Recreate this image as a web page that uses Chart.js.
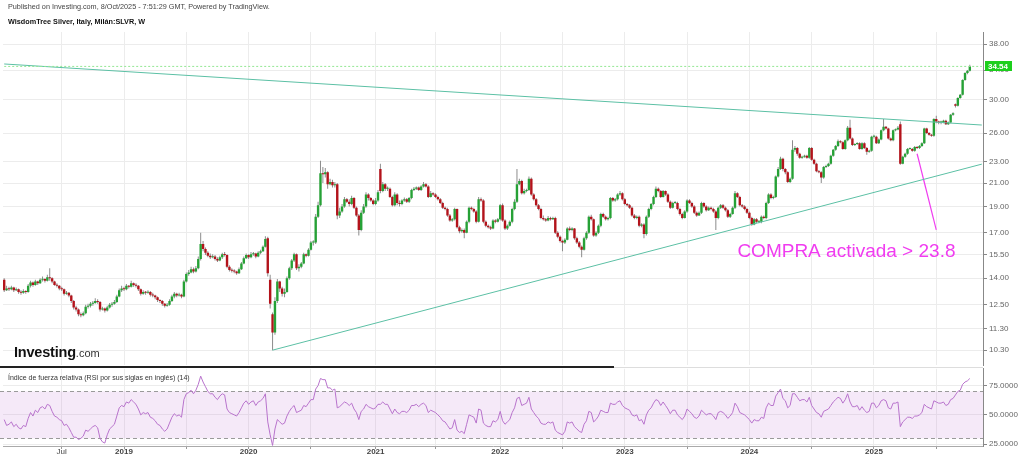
<!DOCTYPE html>
<html lang="es">
<head>
<meta charset="utf-8">
<title>WisdomTree Silver - SLVR semanal</title>
<script src="https://cdn.jsdelivr.net/npm/chart.js@4.4.1/dist/chart.umd.min.js"></script>
<style>
  html, body { margin: 0; padding: 0; background: #fff; }
  body { position: relative; width: 1024px; height: 456px; overflow: hidden;
         font-family: "Liberation Sans", Arial, sans-serif; }
  .panel { position: absolute; left: 0; width: 1024px; }
  #panel-precio { top: 0; height: 372px; }
  #panel-rsi { top: 362px; height: 94px; }
  .texto { position: absolute; white-space: nowrap; }
  #publicado { left: 8px; top: 3px; font-size: 7.25px; line-height: 8px; color: #444; }
  #titulo { left: 8px; top: 18px; font-size: 7.25px; line-height: 8px; font-weight: bold; color: #111; }
  #titulo-rsi { left: 8px; top: 374px; font-size: 7px; line-height: 8px; color: #333; }
  #logo { left: 14px; top: 344px; line-height: 15px; color: #111; }
  #logo b { font-size: 14.5px; letter-spacing: -0.2px; }
  #logo span { font-size: 11px; color: #333; }
  #barra { position: absolute; left: 0; top: 366px; width: 614px; height: 2px; background: #222; }
  #barra-gris { position: absolute; left: 614px; top: 367px; width: 369px; height: 1px; background: #ddd; }
</style>
</head>
<body>
<div class="panel" id="panel-precio"><canvas id="grafica-precio"></canvas></div>
<div class="panel" id="panel-rsi"><canvas id="grafica-rsi"></canvas></div>
<div id="barra"></div><div id="barra-gris"></div>
<div class="texto" id="publicado">Published on Investing.com, 8/Oct/2025 - 7:51:29 GMT, Powered by TradingView.</div>
<div class="texto" id="titulo">WisdomTree Silver, Italy, Milán:SLVR, W</div>
<div class="texto" id="titulo-rsi">Índice de fuerza relativa (RSI por sus siglas en inglés) (14)</div>
<div class="texto" id="logo"><b>Investing</b><span>.com</span></div>
<script>
// ── DATOS SEMANALES (desde la semana del 15/01/2018) ──────────
const aperturas = [
  13.90,13.30,13.40,13.35,13.45,13.30,13.35,13.20,13.15,13.25,
  13.20,13.55,13.75,13.60,13.80,13.70,13.90,13.95,13.85,14.05,
  14.00,13.80,13.60,13.55,13.40,13.35,13.10,13.15,13.00,12.70,
  12.35,12.25,12.00,11.95,12.05,12.40,12.45,12.55,12.60,12.70,
  12.65,12.25,12.30,12.20,12.35,12.50,12.55,12.65,12.95,13.30,
  13.40,13.35,13.55,13.50,13.70,13.60,13.55,13.35,13.10,13.20,
  13.15,13.20,13.05,13.00,12.90,12.75,12.70,12.55,12.45,12.50,
  12.70,12.95,13.10,13.00,13.05,12.95,13.80,14.25,14.35,14.55,
  14.40,14.60,15.20,16.20,15.85,15.60,15.40,15.30,15.35,15.20,
  15.10,15.30,15.50,15.45,14.70,14.50,14.45,14.40,14.30,14.55,
  14.90,15.25,15.45,15.30,15.50,15.55,15.35,15.60,15.70,16.00,
  16.60,13.90,12.00,11.10,12.70,13.80,13.40,13.10,13.20,14.00,
  14.60,15.10,15.50,14.60,14.70,14.90,15.50,15.40,15.80,16.30,
  16.30,18.20,19.10,21.90,21.80,22.00,20.90,21.10,20.80,20.90,
  18.30,18.60,19.00,19.60,19.40,19.20,19.70,18.90,18.30,17.20,
  18.50,19.00,20.00,19.70,19.50,19.20,19.50,22.30,20.30,20.90,
  20.50,20.50,19.80,19.10,20.00,19.30,19.20,19.50,19.60,19.40,
  19.70,20.40,20.50,20.60,20.40,20.70,20.90,20.70,19.80,20.10,
  20.00,19.80,19.60,19.30,18.90,18.80,18.30,17.90,18.00,18.80,
  17.40,17.10,17.20,17.00,17.80,18.90,18.80,18.60,17.80,19.60,
  19.50,17.80,17.50,17.40,17.30,17.90,17.80,18.00,19.10,17.90,
  17.30,17.50,17.80,18.80,19.40,20.90,21.20,20.10,20.30,20.40,
  21.40,20.00,19.60,19.10,18.80,18.10,18.00,17.90,18.10,18.00,
  18.10,17.00,16.70,16.40,16.30,16.50,17.30,17.20,17.30,16.60,
  16.30,16.00,15.80,16.60,17.00,18.20,18.00,16.80,17.00,17.50,
  18.40,18.20,18.00,18.10,19.70,19.50,19.60,20.00,20.10,19.60,
  19.20,19.10,18.90,18.30,18.10,18.20,17.50,17.60,16.90,18.20,
  18.80,19.20,19.80,20.50,20.30,19.80,20.30,20.00,19.40,18.90,
  19.30,19.30,18.80,18.40,18.10,18.60,19.50,19.30,19.00,18.50,
  18.30,18.50,19.30,19.00,18.70,18.90,18.80,18.60,18.10,18.90,
  19.10,18.90,18.70,18.20,18.40,18.90,20.10,19.80,19.10,19.00,
  18.80,18.50,18.10,17.60,18.00,17.80,17.80,18.20,18.10,19.30,
  20.00,19.70,19.80,21.60,22.30,23.30,22.30,22.00,21.10,21.40,
  24.20,24.40,23.80,23.40,23.50,23.60,23.40,24.40,23.20,22.80,
  22.10,22.00,21.50,22.50,22.60,22.80,23.60,24.20,24.60,25.10,
  25.00,24.30,25.20,26.60,25.40,24.70,24.80,24.90,24.30,24.90,
  24.40,24.00,24.10,25.60,25.60,24.90,25.30,26.30,26.70,26.50,
  25.40,25.20,26.30,26.40,27.00,22.80,23.50,23.80,24.30,24.30,
  24.10,24.50,24.40,24.60,24.90,26.50,26.00,25.80,25.70,27.60,
  27.30,27.20,27.20,27.40,27.00,27.20,28.10,29.40,29.20,30.20,
  30.60,32.60,33.60,33.90
];
const maximos = [
  14.00,13.55,13.50,13.55,13.50,13.45,13.40,13.30,13.35,13.30,
  13.65,13.85,13.80,13.90,13.85,14.00,14.10,14.00,14.20,14.60,
  14.05,13.85,13.70,13.60,13.50,13.40,13.25,13.20,13.05,12.75,
  12.45,12.30,12.10,12.15,12.50,12.55,12.65,12.70,12.85,12.80,
  12.70,12.40,12.35,12.45,12.60,12.65,12.75,13.05,13.40,13.55,
  13.50,13.65,13.60,13.85,13.75,13.70,13.60,13.40,13.30,13.25,
  13.30,13.25,13.15,13.05,12.95,12.80,12.75,12.60,12.60,12.80,
  13.05,13.20,13.15,13.15,13.10,13.90,14.35,14.50,14.70,14.65,
  14.75,15.35,17.00,16.40,15.95,15.70,15.55,15.50,15.45,15.30,
  15.40,15.60,15.65,15.50,14.80,14.60,14.55,14.45,14.65,15.00,
  15.35,15.55,15.50,15.65,15.65,15.60,15.70,15.80,16.10,16.75,
  16.70,14.20,12.10,12.90,13.95,13.85,13.50,13.40,14.10,14.70,
  15.20,15.60,15.55,14.85,15.00,15.60,15.55,15.90,16.40,16.45,
  18.40,19.40,23.10,22.50,22.40,22.10,21.40,21.30,21.10,21.00,
  18.90,19.20,19.80,19.70,19.60,19.90,19.80,19.00,18.40,18.70,
  19.20,20.20,20.10,19.80,19.60,19.70,20.40,22.80,21.10,21.00,
  20.70,20.60,19.90,20.20,20.10,19.50,19.60,19.75,19.70,19.80,
  20.50,20.65,20.70,20.70,20.80,21.10,21.00,20.80,20.30,20.20,
  20.10,19.90,19.70,19.40,19.00,18.90,18.40,18.10,18.90,18.85,
  17.50,17.30,17.30,17.90,19.00,19.00,18.90,18.70,19.80,19.75,
  19.60,17.90,17.60,17.50,18.00,18.00,18.10,19.20,19.25,18.00,
  17.60,17.90,18.90,19.60,22.30,21.40,21.30,20.50,20.50,21.60,
  21.50,20.10,19.70,19.20,18.90,18.30,18.10,18.25,18.20,18.20,
  18.20,17.10,16.80,16.50,16.60,17.40,17.45,17.40,17.35,16.70,
  16.40,16.10,16.70,17.10,18.30,18.35,18.05,17.10,17.60,18.50,
  18.50,18.30,18.20,19.80,19.80,19.70,20.10,20.30,20.20,19.70,
  19.30,19.20,19.00,18.40,18.30,18.30,17.70,17.70,18.30,18.90,
  19.30,19.90,20.70,20.60,20.40,20.40,20.35,20.10,19.50,19.40,
  19.45,19.40,18.90,18.50,18.70,19.60,19.60,19.40,19.10,18.60,
  18.60,19.40,19.35,19.10,19.00,19.00,18.90,18.70,19.00,19.20,
  19.20,19.00,18.80,18.50,19.00,20.30,20.20,19.90,19.20,19.10,
  18.90,18.60,18.20,18.10,18.10,17.90,18.30,18.30,19.40,20.10,
  20.10,19.90,21.70,22.50,23.50,23.40,22.40,22.10,21.50,25.20,
  24.60,24.50,23.90,23.60,23.70,23.70,24.50,24.50,23.30,22.90,
  22.20,22.10,22.60,22.70,22.90,23.70,24.30,24.70,25.30,25.20,
  25.10,25.30,26.80,27.50,25.50,24.90,25.00,25.00,25.00,25.00,
  24.50,24.20,25.70,25.80,25.70,25.40,26.40,27.60,26.80,26.60,
  25.50,26.40,26.50,26.80,27.30,23.60,23.90,24.40,24.45,24.40,
  24.60,24.60,24.70,25.00,26.60,26.60,26.10,25.90,27.70,28.00,
  27.40,27.40,27.50,27.50,27.30,28.20,28.40,29.50,30.30,30.70,
  32.70,33.70,34.00,34.80
];
const minimos = [
  13.20,13.25,13.25,13.30,13.20,13.25,13.10,13.05,13.10,13.10,
  13.15,13.45,13.50,13.55,13.60,13.65,13.80,13.75,13.80,13.85,
  13.70,13.55,13.45,13.30,13.25,13.00,13.05,12.90,12.60,12.25,
  12.15,11.90,11.85,11.90,12.00,12.30,12.35,12.45,12.55,12.55,
  12.15,12.20,12.10,12.15,12.30,12.40,12.50,12.60,12.90,13.20,
  13.25,13.30,13.40,13.45,13.50,13.45,13.25,13.00,13.05,13.05,
  13.10,12.95,12.90,12.80,12.65,12.60,12.45,12.35,12.40,12.45,
  12.65,12.85,12.90,12.95,12.85,12.90,13.75,14.15,14.30,14.30,
  14.35,14.55,15.10,15.70,15.45,15.30,15.20,15.25,15.10,15.00,
  15.05,15.20,15.35,14.60,14.40,14.35,14.30,14.20,14.25,14.50,
  14.85,15.20,15.20,15.25,15.40,15.25,15.30,15.50,15.65,15.95,
  14.10,12.30,10.30,11.00,12.60,13.20,12.95,12.90,13.15,13.90,
  14.50,15.00,14.50,14.40,14.60,14.85,15.30,15.35,15.75,16.10,
  16.20,18.10,19.00,21.00,21.50,20.50,20.80,20.60,20.60,18.00,
  18.10,18.50,18.90,19.30,19.00,19.10,18.80,18.20,16.80,17.10,
  18.40,18.90,19.50,19.40,19.10,19.10,19.40,20.10,20.20,20.30,
  20.30,19.70,19.00,19.00,19.10,19.00,19.10,19.40,19.30,19.30,
  19.60,20.30,20.40,20.30,20.30,20.60,20.60,19.70,19.75,19.90,
  19.70,19.50,19.20,18.80,18.70,18.20,17.80,17.80,17.90,17.30,
  16.95,17.00,16.60,16.95,17.70,18.70,18.50,17.70,17.75,19.40,
  17.70,17.40,17.30,17.20,17.25,17.70,17.75,17.90,17.80,17.20,
  17.20,17.45,17.70,18.70,19.30,20.80,20.00,20.00,20.20,20.30,
  19.90,19.50,19.00,18.70,18.00,17.90,17.80,17.85,17.90,17.95,
  16.90,16.60,16.30,15.70,16.20,16.45,17.10,17.10,16.50,16.20,
  15.90,15.30,15.75,16.50,16.90,17.90,16.70,16.70,16.90,17.40,
  18.10,17.90,17.90,18.00,19.40,19.40,19.50,19.90,19.50,19.10,
  19.00,18.80,18.20,18.00,18.00,17.40,17.40,16.60,16.80,18.10,
  18.70,19.10,19.70,20.20,19.70,19.75,19.90,19.30,18.80,18.85,
  19.20,18.70,18.30,18.00,18.05,18.50,19.20,18.90,18.40,18.20,
  18.25,18.40,18.90,18.60,18.65,18.70,18.50,17.20,18.00,18.80,
  18.80,18.60,18.10,18.10,18.35,18.80,19.70,19.00,18.90,18.70,
  18.40,18.00,17.50,17.55,17.70,17.70,17.70,18.00,18.00,19.20,
  19.60,19.60,19.70,21.50,22.20,22.10,21.80,21.00,21.00,21.30,
  24.00,23.60,23.30,23.30,23.40,23.30,23.30,23.10,22.70,22.00,
  21.90,21.00,21.40,22.40,22.50,22.70,23.50,24.10,24.50,24.90,
  24.20,24.20,25.10,25.30,24.60,24.60,24.70,24.20,24.20,24.30,
  23.70,23.90,24.00,25.40,24.80,24.80,25.20,26.20,26.40,25.30,
  25.10,25.10,26.20,26.30,22.70,22.75,23.40,23.70,24.20,24.00,
  24.00,24.30,24.30,24.50,24.80,25.90,25.70,25.60,25.60,27.10,
  27.00,27.00,27.10,26.90,26.90,27.10,28.00,29.00,29.10,30.10,
  30.50,32.50,33.40,33.80
];
const cierres = [
  13.30,13.40,13.35,13.45,13.30,13.35,13.20,13.15,13.25,13.20,
  13.55,13.75,13.60,13.80,13.70,13.90,13.95,13.85,14.05,14.00,
  13.80,13.60,13.55,13.40,13.35,13.10,13.15,13.00,12.70,12.35,
  12.25,12.00,11.95,12.05,12.40,12.45,12.55,12.60,12.70,12.65,
  12.25,12.30,12.20,12.35,12.50,12.55,12.65,12.95,13.30,13.40,
  13.35,13.55,13.50,13.70,13.60,13.55,13.35,13.10,13.20,13.15,
  13.20,13.05,13.00,12.90,12.75,12.70,12.55,12.45,12.50,12.70,
  12.95,13.10,13.00,13.05,12.95,13.80,14.25,14.35,14.55,14.40,
  14.60,15.20,16.20,15.85,15.60,15.40,15.30,15.35,15.20,15.10,
  15.30,15.50,15.45,14.70,14.50,14.45,14.40,14.30,14.55,14.90,
  15.25,15.45,15.30,15.50,15.55,15.35,15.60,15.70,16.00,16.55,
  14.30,12.55,11.10,12.70,13.80,13.40,13.10,13.20,14.00,14.60,
  15.10,15.50,14.60,14.70,14.90,15.50,15.40,15.80,16.30,16.30,
  18.20,19.10,21.90,21.80,22.00,20.90,21.10,20.80,20.90,18.30,
  18.60,19.00,19.60,19.40,19.20,19.70,18.90,18.30,17.20,18.50,
  19.00,20.00,19.70,19.50,19.20,19.50,20.20,20.30,20.90,20.50,
  20.50,19.80,19.10,20.00,19.30,19.20,19.50,19.60,19.40,19.70,
  20.40,20.50,20.60,20.40,20.70,20.90,20.70,19.80,20.10,20.00,
  19.80,19.60,19.30,18.90,18.80,18.30,17.90,18.00,18.80,17.40,
  17.10,17.20,17.00,17.80,18.90,18.80,18.60,17.80,19.60,19.50,
  17.80,17.50,17.40,17.30,17.90,17.80,18.00,19.10,17.90,17.30,
  17.50,17.80,18.80,19.40,20.90,21.20,20.10,20.30,20.40,21.40,
  20.00,19.60,19.10,18.80,18.10,18.00,17.90,18.10,18.00,18.10,
  17.00,16.70,16.40,16.30,16.50,17.30,17.20,17.30,16.60,16.30,
  16.00,15.80,16.60,17.00,18.20,18.00,16.80,17.00,17.50,18.40,
  18.20,18.00,18.10,19.70,19.50,19.60,20.00,20.10,19.60,19.20,
  19.10,18.90,18.30,18.10,18.20,17.50,17.60,16.90,18.20,18.80,
  19.20,19.80,20.50,20.30,19.80,20.30,20.00,19.40,18.90,19.30,
  19.30,18.80,18.40,18.10,18.60,19.50,19.30,19.00,18.50,18.30,
  18.50,19.30,19.00,18.70,18.90,18.80,18.60,18.10,18.90,19.10,
  18.90,18.70,18.20,18.40,18.90,20.10,19.80,19.10,19.00,18.80,
  18.50,18.10,17.60,18.00,17.80,17.80,18.20,18.10,19.30,20.00,
  19.70,19.80,21.60,22.30,23.30,22.30,22.00,21.10,21.40,24.20,
  24.40,23.80,23.40,23.50,23.60,23.40,24.40,23.20,22.80,22.10,
  22.00,21.50,22.50,22.60,22.80,23.60,24.20,24.60,25.10,25.00,
  24.30,25.20,26.60,25.40,24.70,24.80,24.90,24.30,24.90,24.40,
  24.00,24.10,25.60,25.60,24.90,25.30,26.30,26.70,26.50,25.40,
  25.20,26.30,26.40,26.60,22.80,23.50,23.80,24.30,24.30,24.10,
  24.50,24.40,24.60,24.90,26.50,26.00,25.80,25.70,27.60,27.30,
  27.20,27.20,27.40,27.00,27.20,28.10,28.30,29.20,30.20,30.60,
  32.60,33.60,33.90,34.54
];
const rsi14 = [
  46,41,42,44,40,42,39,38,41,40,
  47,52,49,54,52,56,57,55,59,58,
  53,49,48,46,45,41,42,39,35,31,
  31,29,30,32,37,36,38,40,41,39,
  30,27,26,33,38,40,42,49,56,58,
  57,61,60,63,61,59,55,50,52,51,
  52,48,47,45,42,41,38,36,38,43,
  48,51,49,50,48,63,68,69,71,68,
  71,76,83,78,74,70,68,68,65,63,
  66,68,67,55,52,51,50,49,52,56,
  60,62,59,61,62,58,61,62,64,68,
  44,33,24,38,46,44,42,43,49,53,
  56,58,52,53,54,58,57,60,63,63,
  72,75,81,80,80,73,73,71,72,56,
  57,59,61,60,58,60,55,52,46,53,
  55,59,57,56,55,56,59,59,61,59,
  59,55,51,55,52,51,53,53,52,54,
  58,58,59,57,59,60,58,52,54,53,
  52,50,48,45,44,41,38,39,46,37,
  35,36,34,42,50,49,48,43,55,54,
  43,41,40,40,45,44,46,53,45,42,
  44,46,52,56,64,65,58,59,60,65,
  55,52,49,47,43,42,42,44,43,44,
  37,35,34,33,36,44,43,44,40,38,
  36,35,42,45,53,52,44,46,49,54,
  53,52,52,60,59,59,61,62,58,56,
  55,54,50,49,50,45,46,42,50,54,
  56,60,63,62,58,61,58,55,51,54,
  54,50,48,46,49,55,53,51,48,47,
  49,54,52,50,51,51,49,46,52,53,
  52,50,47,49,52,60,57,52,51,50,
  48,46,43,46,45,45,48,47,56,60,
  58,58,66,69,72,64,62,56,58,68,
  68,65,62,63,63,61,65,58,55,52,
  51,48,53,54,55,58,61,63,65,64,
  60,63,68,61,57,57,58,54,57,54,
  52,53,60,60,56,58,62,63,62,56,
  55,60,60,61,40,44,46,48,48,47,
  49,49,50,52,59,57,56,55,62,61,
  60,60,61,58,59,63,64,67,70,71,
  76,78,79,81
];

// ── EJES Y MARCAS ─────────────────────────────────────────
const marcasPrecio = [10.3, 11.3, 12.5, 14, 15.5, 17, 19, 21, 23, 26, 30, 34, 38];
const marcasRsi = [25, 50, 75];
const nivelesRsi = [30, 70];
const fechasMarcas = ['2018-07-01','2019-01-01','2019-07-01','2020-01-01','2020-07-01','2021-01-01','2021-07-01',
  '2022-01-01','2022-07-01','2023-01-01','2023-07-01','2024-01-01','2024-07-01','2025-01-01','2025-07-01'];
const textosMarcas = ['Jul','2019','','2020','','2021','','2022','','2023','','2024','','2025',''];

// ── DIRECTRICES Y ANOTACIÓN ───────────────────────────────
const semanasBajista = [0, 408];
const lineaBajista = [34.9, 26.9];
const semanasAlcista = [112, 408];
const lineaAlcista = [10.3, 22.77];
const semanasPrecioActual = [0, 408];
const ultimoPrecio = 34.54;
const semanasFlecha = [381, 389];
const flechaCompra = [23.8, 17.2];
const textoCompra = 'COMPRA activada > 23.8';
const semanaTextoCompra = 306;
const precioTextoCompra = 15.3;

// ── SEMANAS (categorías) ──────────────────────────────────
const SEMANAS = 409;
const DIA = 86400000;
const inicio = Date.UTC(2018, 0, 15);
const semanas = [];
for (let i = 0; i < SEMANAS; i++) {
    semanas.push(new Date(inicio + i * 7 * DIA).toISOString().slice(0, 10));
}
const marcaPorIndice = {};
fechasMarcas.forEach((f, k) => {
    marcaPorIndice[Math.round((Date.parse(f) - inicio) / (7 * DIA))] = textosMarcas[k];
});

const FUENTE = '"Liberation Sans", Arial, sans-serif';
const VERDE = '#26a136';
const ROJO = '#b3131b';
const TEAL = '#5cc0a5';
const MAGENTA = '#f03cf0';
const REJILLA = '#ececec';

Chart.defaults.font.family = FUENTE;
Chart.defaults.animation = false;
Chart.defaults.plugins.legend.display = false;
Chart.defaults.plugins.tooltip.enabled = false;

const rejillaX = ctx => (ctx.index in marcaPorIndice) ? REJILLA : 'rgba(0,0,0,0)';
const marcaX = ctx => (ctx.index in marcaPorIndice) ? '#999' : 'rgba(0,0,0,0)';
const puntos = (idx, vals) => idx.map((s, k) => ({ x: semanas[s], y: vals[k] }));
const lineaSimple = (data, color, extra) => Object.assign({
    type: 'line', data, borderColor: color, borderWidth: 1, pointRadius: 0, order: 0
}, extra || {});

// ── PLUGINS ───────────────────────────────────────────────
const etiquetaPrecio = {
    id: 'etiquetaPrecio',
    afterDraw(chart) {
        const { ctx, chartArea, scales: { y } } = chart;
        const py = Math.round(y.getPixelForValue(ultimoPrecio));
        ctx.save();
        ctx.fillStyle = '#1ccf1c';
        ctx.fillRect(chartArea.right + 2, py - 5, 27, 10);
        ctx.fillStyle = '#fff';
        ctx.font = 'bold 8px ' + FUENTE;
        ctx.textBaseline = 'middle';
        ctx.fillText(ultimoPrecio.toFixed(2), chartArea.right + 5, py + 0.5);
        ctx.restore();
    }
};
const textoAnotacion = {
    id: 'textoAnotacion',
    afterDatasetsDraw(chart) {
        const { ctx, scales: { x, y } } = chart;
        ctx.save();
        ctx.fillStyle = MAGENTA;
        ctx.font = '19px ' + FUENTE;
        ctx.textBaseline = 'alphabetic';
        ctx.fillText(textoCompra, x.getPixelForValue(semanaTextoCompra), y.getPixelForValue(precioTextoCompra));
        ctx.restore();
    }
};
const bandaRsi = {
    id: 'bandaRsi',
    beforeDatasetsDraw(chart) {
        const { ctx, chartArea: a, scales: { y } } = chart;
        const ySup = y.getPixelForValue(nivelesRsi[1]);
        const yInf = y.getPixelForValue(nivelesRsi[0]);
        ctx.save();
        ctx.fillStyle = 'rgba(190, 120, 210, 0.16)';
        ctx.fillRect(a.left - 3, ySup, a.right - a.left + 3, yInf - ySup);
        ctx.strokeStyle = '#9a9a9a';
        ctx.lineWidth = 1;
        ctx.setLineDash([4, 3]);
        [ySup, yInf].forEach(p => {
            ctx.beginPath();
            ctx.moveTo(a.left - 3, Math.round(p) + 0.5);
            ctx.lineTo(a.right, Math.round(p) + 0.5);
            ctx.stroke();
        });
        ctx.restore();
    }
};

// ── GRÁFICA: VELAS SEMANALES ──────────────────────────────
new Chart(document.getElementById('grafica-precio'), {
    type: 'bar',
    data: {
        labels: semanas,
        datasets: [
            {
                label: 'Mechas',
                data: minimos.map((m, i) => [m, maximos[i]]),
                backgroundColor: '#8c8c8c',
                barThickness: 1, grouped: false, inflateAmount: 0, order: 2
            },
            {
                label: 'Cuerpos',
                data: aperturas.map((a, i) => [a, cierres[i]]),
                backgroundColor: cierres.map((c, i) => c >= aperturas[i] ? VERDE : ROJO),
                barThickness: 2.4, minBarLength: 1, grouped: false, inflateAmount: 0, order: 1
            },
            lineaSimple(puntos(semanasPrecioActual, [ultimoPrecio, ultimoPrecio]), '#94e794', { borderDash: [2, 2] }),
            lineaSimple(puntos(semanasBajista, lineaBajista), TEAL),
            lineaSimple(puntos(semanasAlcista, lineaAlcista), TEAL),
            lineaSimple(puntos(semanasFlecha, flechaCompra), MAGENTA, { borderWidth: 1.2 })
        ]
    },
    options: {
        responsive: true,
        maintainAspectRatio: false,
        devicePixelRatio: 1,
        layout: { padding: { left: 3, right: 0, top: 32, bottom: 0 } },
        scales: {
            x: {
                offset: true,
                grid: { offset: false, color: rejillaX, drawTicks: false },
                border: { display: false },
                ticks: { display: false, autoSkip: false },
                afterFit: s => { s.height = 0; }
            },
            y: {
                type: 'logarithmic',
                position: 'right',
                min: 9.66,
                max: 40,
                afterBuildTicks: s => { s.ticks = marcasPrecio.map(v => ({ value: v })); },
                afterFit: s => { s.width = 41; },
                grid: { color: REJILLA, tickLength: 4, tickColor: '#888' },
                border: { display: true, color: '#888' },
                ticks: { color: '#666', font: { size: 8 }, padding: 2, callback: v => Number(v).toFixed(2) }
            }
        }
    },
    plugins: [textoAnotacion, etiquetaPrecio]
});

// ── GRÁFICA: RSI (14) ─────────────────────────────────────
new Chart(document.getElementById('grafica-rsi'), {
    type: 'line',
    data: {
        labels: semanas,
        datasets: [{
            label: 'RSI',
            data: rsi14,
            borderColor: '#b873cc',
            borderWidth: 1,
            pointRadius: 0,
            tension: 0
        }]
    },
    options: {
        responsive: true,
        maintainAspectRatio: false,
        devicePixelRatio: 1,
        layout: { padding: { left: 3, right: 0, top: 2, bottom: 0 } },
        scales: {
            x: {
                offset: true,
                grid: { offset: false, color: rejillaX, tickLength: 3, tickColor: marcaX },
                border: { display: true, color: '#aaa' },
                ticks: {
                    autoSkip: false, maxRotation: 0, minRotation: 0, padding: -2, color: '#444',
                    font: ctx => ({ size: 8, weight: /^\d{4}$/.test(marcaPorIndice[ctx.index] || '') ? 'bold' : 'normal' }),
                    callback: (v, i) => marcaPorIndice[i] || ''
                },
                afterFit: s => { s.height = 10; }
            },
            y: {
                position: 'right',
                min: 23.5,
                max: 89.25,
                afterBuildTicks: s => { s.ticks = marcasRsi.map(v => ({ value: v })); },
                afterFit: s => { s.width = 41; },
                grid: { color: REJILLA, tickLength: 4, tickColor: '#888' },
                border: { display: true, color: '#888' },
                ticks: { color: '#666', font: { size: 8 }, padding: 2, callback: v => Number(v).toFixed(4) }
            }
        }
    },
    plugins: [bandaRsi]
});
</script>
</body>
</html>
